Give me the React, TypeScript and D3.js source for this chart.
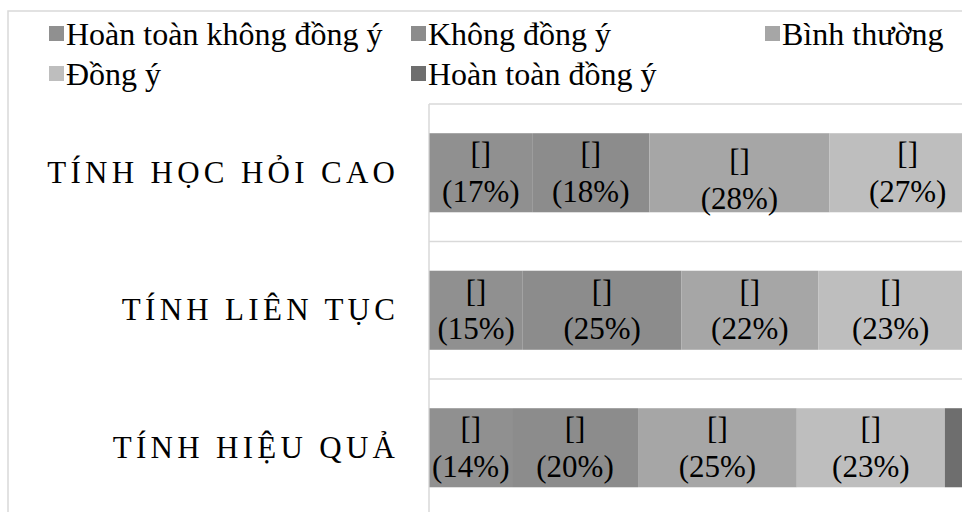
import React from "react";
import * as d3 from "d3";

const categories = ["TÍNH HỌC HỎI CAO", "TÍNH LIÊN TỤC", "TÍNH HIỆU QUẢ"];
const seriesNames = [
  "Hoàn toàn không đồng ý",
  "Không đồng ý",
  "Bình thường",
  "Đồng ý",
  "Hoàn toàn đồng ý",
];
// segment sizes (share of each row)
const hoanToanKhongDongY = [16.3, 14.8, 13.1];
const khongDongY = [18.6, 25.2, 20.0];
const binhThuong = [28.6, 21.7, 25.2];
const dongY = [24.8, 23.0, 23.5];
const hoanToanDongY = [11.7, 15.3, 18.2];
// data label texts as shown
const lblHoanToanKhongDongY = ["17%", "15%", "14%"];
const lblKhongDongY = ["18%", "25%", "20%"];
const lblBinhThuong = ["28%", "22%", "25%"];
const lblDongY = ["27%", "23%", "23%"];
const lblHoanToanDongY: (string | null)[] = [null, null, null];

const seriesValues = [hoanToanKhongDongY, khongDongY, binhThuong, dongY, hoanToanDongY];
const seriesLabels = [lblHoanToanKhongDongY, lblKhongDongY, lblBinhThuong, lblDongY, lblHoanToanDongY];
const colors = ["#909090", "#8c8c8c", "#a6a6a6", "#bebebe", "#6e6e6e"];

const W = 962;
const H = 512;
const FONT = "'Liberation Serif', 'Times New Roman', serif";

export default function App() {
  const x = d3.scaleLinear().domain([0, 100]).range([429.5, 1059.5]);
  const y = d3
    .scaleBand<string>()
    .domain(categories)
    .range([104, 516.5])
    .paddingInner(0.425)
    .paddingOuter(0.2125);
  const step = y.step();

  const rows = categories.map((c, i) => {
    const obj: Record<string, number | string> = { cat: c };
    seriesNames.forEach((s, j) => (obj[s] = seriesValues[j][i]));
    return obj;
  });
  const stack = d3.stack<Record<string, number | string>>().keys(seriesNames)(rows as any);

  const legendCols = [49, 411, 765];
  const legendItems = [
    { s: 0, col: 0, row: 0 },
    { s: 1, col: 1, row: 0 },
    { s: 2, col: 2, row: 0 },
    { s: 3, col: 0, row: 1 },
    { s: 4, col: 1, row: 1 },
  ];

  const gridYs = categories.map((c) => (y(c) as number) - (step - y.bandwidth()) / 2);
  gridYs.push(gridYs[gridYs.length - 1] + step);

  return (
    <svg
      width={W}
      height={H}
      style={{ position: "absolute", left: 0, top: 0, background: "#fff" }}
      fontFamily={FONT}
    >
      <rect x={8} y={11} width={1200} height={800} fill="#fff" stroke="#d9d9d9" strokeWidth={1.5} />
      {/* legend */}
      {legendItems.map((it) => (
        <g key={it.s} transform={`translate(${legendCols[it.col]},${34 + it.row * 40})`}>
          <rect x={0} y={-8} width={15} height={15} fill={colors[it.s]} />
          <text x={17} y={11} fontSize={32} fill="#000">
            {seriesNames[it.s]}
          </text>
        </g>
      ))}
      {/* gridlines */}
      {gridYs.map((gy, i) => (
        <line key={i} x1={429} x2={W} y1={gy} y2={gy} stroke="#d9d9d9" strokeWidth={1.5} />
      ))}
      <line x1={429} x2={429} y1={gridYs[0]} y2={H + 10} stroke="#d9d9d9" strokeWidth={1.5} />
      {/* bars */}
      {stack.map((layer, j) =>
        layer.map((d, i) => (
          <rect
            key={`${j}-${i}`}
            x={x(d[0])}
            y={y(categories[i])}
            width={x(d[1]) - x(d[0])}
            height={y.bandwidth()}
            fill={colors[j]}
          />
        ))
      )}
      {/* data labels */}
      {stack.map((layer, j) =>
        layer.map((d, i) => {
          const lbl = seriesLabels[j][i];
          if (!lbl) return null;
          const cx = (x(d[0]) + x(d[1])) / 2;
          // the reference shows one label nudged a little lower
          const nudge = j === 2 && i === 0 ? 7 : 0;
          const cy = (y(categories[i]) as number) + y.bandwidth() / 2 + nudge;
          return (
            <text key={`l${j}-${i}`} x={cx} textAnchor="middle" fontSize={31} fill="#000">
              <tspan x={cx} y={cy - 8.5}>[]</tspan>
              <tspan x={cx} y={cy + 29}>({lbl})</tspan>
            </text>
          );
        })
      )}
      {/* category labels */}
      {categories.map((c) => (
        <text
          key={c}
          x={395 + 4.3}
          y={(y(c) as number) + y.bandwidth() / 2 + 10}
          textAnchor="end"
          fontSize={31}
          letterSpacing={4.3}
          fill="#000"
        >
          {c}
        </text>
      ))}
    </svg>
  );
}
